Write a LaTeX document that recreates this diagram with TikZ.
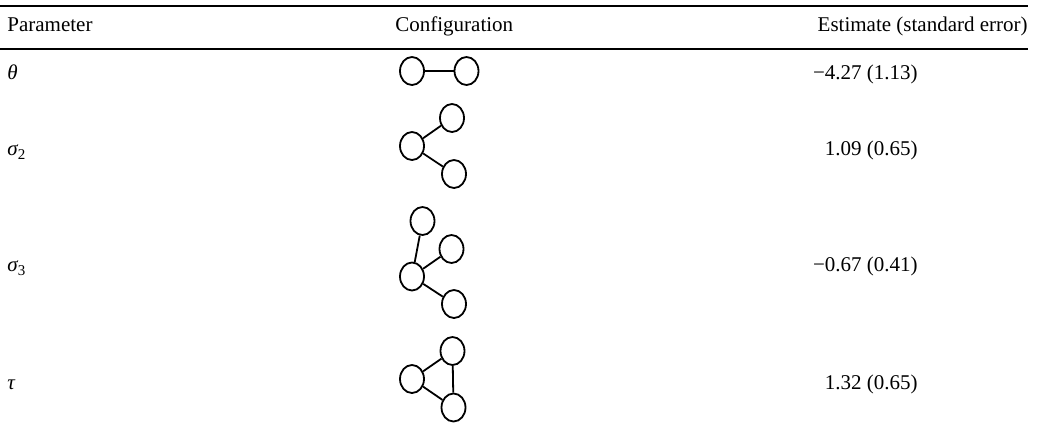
\documentclass[tikz,border=0pt]{standalone}
\usepackage{fontspec}
\setmainfont{Liberation Serif}
\usepackage{tikz}
\usetikzlibrary{shapes.geometric}
\newcommand{\grk}[2]{{\itshape #1}\raisebox{-0.45ex}{\fontsize{7.5}{8}\selectfont #2}}
\tikzset{
		edgeStyle/.style = 	{line width = 0.9pt},
		ruleStyle/.style = 	{line width = 1pt},
		vertex/.style=	{ellipse,draw,line width=0.9pt,inner sep=0pt,minimum width=12pt,minimum height=14pt},
		txt/.style=	{inner sep=0pt,font=\fontsize{10.5}{12}\selectfont}
}
\begin{document}
\begin{tikzpicture}[x=0.5pt,y=-0.5pt]
  \useasboundingbox (0,0) rectangle (1039,439);

  % header and rules
  \draw [ruleStyle] (0,6) coordinate (topL) -- (1028,6) coordinate (topR);
  \draw [ruleStyle] (0,48.5) coordinate (midL) -- (1028,48.5) coordinate (midR);
  \node [txt,anchor=base west] (hpar) at (7,32) {Parameter};
  \node [txt,anchor=base west] (hconf) at (395,32) {Configuration};
  \node [txt,anchor=base east] (hest) at (1028,32) {Estimate (standard error)};

  % rows
  \foreach \i/\lab/\est/\y in {1/{\grk{θ}{}}/{−4.27 (1.13)}/79,
                               2/{\grk{σ}{2}}/{1.09 (0.65)}/155,
                               3/{\grk{σ}{3}}/{−0.67 (0.41)}/271,
                               4/{\grk{τ}{}}/{1.32 (0.65)}/389}
     {\node [txt,anchor=base west] (par\i) at (7,\y) {\lab};
      \node [txt,anchor=base east] (est\i) at (918,\y) {\est};}

  % theta
  \node [vertex] (a1) at (412,71) {};
  \node [vertex] (a2) at (466.5,71) {};
  \draw [edgeStyle] (a1)--(a2);

  % sigma 2
  \node [vertex] (b1) at (412,146) {};
  \node [vertex] (b2) at (452,118) {};
  \node [vertex] (b3) at (454,174) {};
  \draw [edgeStyle] (b1)--(b2) (b1)--(b3);

  % sigma 3
  \node [vertex] (c1) at (412,276.5) {};
  \node [vertex] (c2) at (422.5,221) {};
  \node [vertex] (c3) at (451.5,249) {};
  \node [vertex] (c4) at (454,304) {};
  \draw [edgeStyle] (c1)--(c2) (c1)--(c3) (c1)--(c4);

  % tau
  \node [vertex] (d1) at (412,379) {};
  \node [vertex] (d2) at (452.5,351) {};
  \node [vertex] (d3) at (453.5,407.5) {};
  \draw [edgeStyle] (d1)--(d2) (d1)--(d3) (d2)--(d3);

\end{tikzpicture}
\end{document}
